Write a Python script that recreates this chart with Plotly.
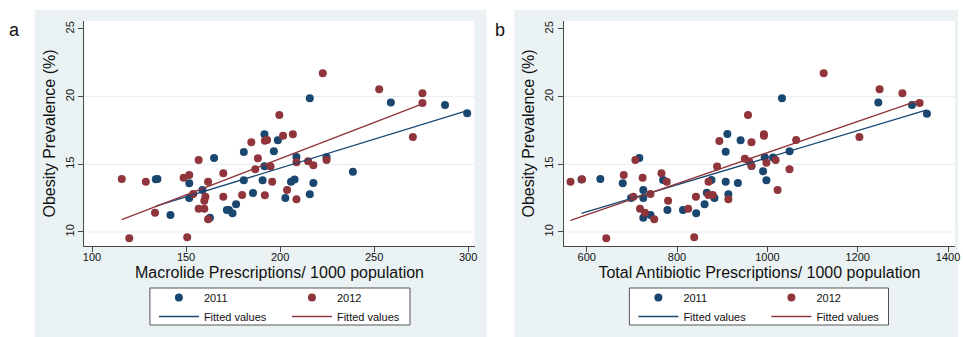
import numpy as np
import plotly.graph_objects as go

# ---------------- data ----------------
mac_2011_x = [133.9, 134.8, 141.7, 151.7, 151.7, 158.7, 164.9, 162.7, 171.7, 172.8, 174.7, 176.6,
              180.7, 180.7, 185.6, 215.8, 258.9, 287.7, 299.5, 191.7, 198.8, 196.7, 191.7, 208.7,
              224.7, 238.7, 190.7, 202.8, 205.8, 207.7, 215.8, 217.7]
mac_2011_y = [13.90, 13.92, 11.26, 13.60, 12.51, 13.10, 15.47, 11.06, 11.63, 11.63, 11.38, 12.05,
              15.91, 13.82, 12.88, 19.88, 19.56, 19.39, 18.77, 17.22, 16.78, 15.96, 14.85, 15.54,
              15.52, 14.46, 13.82, 12.51, 13.72, 13.87, 12.79, 13.62]

mac_2012_x = [115.8, 128.6, 133.5, 119.8, 150.6, 148.7, 151.7, 156.7, 153.8, 161.7, 160.3, 159.7,
              156.7, 159.7, 161.7, 169.8, 169.8, 179.8, 184.7, 188.2, 186.8, 222.7, 252.7, 275.7,
              275.7, 270.6, 199.6, 191.9, 193.1, 201.6, 206.8, 194.9, 208.7, 214.9, 217.7, 224.7,
              195.8, 191.9, 203.7, 208.7]
mac_2012_y = [13.92, 13.72, 11.43, 9.53, 9.61, 14.01, 14.21, 15.32, 12.81, 13.72, 12.60, 12.31,
              11.72, 11.72, 10.94, 14.34, 12.61, 12.73, 16.63, 15.45, 14.63, 21.73, 20.55, 20.25,
              19.53, 17.02, 18.65, 16.75, 16.80, 17.12, 17.22, 14.83, 15.15, 15.22, 14.93, 15.32,
              13.72, 12.71, 13.10, 12.42]

tot_2011_x = [588.5, 630.1, 679.8, 716.5, 698.2, 725.3, 725.3, 725.3, 741.3, 769.2, 778.7, 813.2, 842.4,
              860.9, 865.9, 876.2, 882.8, 907.7, 911.4, 907.7, 913.6, 1032.3, 1245.5, 1320.2, 1353.2,
              940.7, 994.1, 1012.5, 1049.1, 964.8, 990.5, 997.8, 934.7]
tot_2011_y = [13.87, 13.92, 13.60, 15.47, 12.51, 13.10, 12.51, 11.06, 11.26, 13.84, 11.63, 11.63, 11.38,
              12.05, 12.90, 13.84, 12.51, 15.93, 17.24, 13.72, 12.79, 19.88, 19.56, 19.39, 18.74,
              16.78, 15.52, 15.50, 15.96, 14.88, 14.49, 13.82, 13.62]

tot_2012_x = [564.2, 589.7, 643.3, 682.0, 707.7, 723.8, 703.3, 741.3, 718.0, 729.0, 749.5, 765.5,
              777.3, 780.2, 824.8, 838.0, 841.8, 869.7, 869.7, 879.1, 888.6, 893.8, 913.6, 1124.6,
              1248.4, 1298.9, 1337.0, 1203.7, 957.1, 992.3, 992.3, 964.8, 1063.7, 950.1, 959.8, 964.8,
              997.8, 1018.2, 1049.0, 1022.6]
tot_2012_y = [13.72, 13.90, 9.53, 14.21, 15.32, 14.01, 12.61, 12.81, 11.72, 11.43, 10.94, 14.34,
              13.72, 12.31, 11.72, 9.61, 12.61, 13.72, 12.73, 12.73, 14.83, 16.73, 12.42, 21.73,
              20.55, 20.25, 19.53, 17.02, 18.65, 17.22, 17.12, 16.63, 16.80, 15.42, 15.20, 14.90,
              15.12, 15.32, 14.63, 13.10]

years = ["2011", "2012"]
fit_label = "Fitted values"
panel_labels = ["a", "b"]
x_titles = ["Macrolide Prescriptions/ 1000 population", "Total Antibiotic Prescriptions/ 1000 population"]
y_title = "Obesity Prevalence (%)"
x_ticks_a = [100, 150, 200, 250, 300]
x_ticks_b = [600, 800, 1000, 1200, 1400]
y_ticks = [10, 15, 20, 25]
y_grid = [10, 15, 20]

# ---------------- style ----------------
W, H = 963, 337
NAVY = "#1A476F"
MAROON = "#90353B"
PANEL_BG = "#EAF2F3"
GRID = "#E3EEF0"
AXIS = "#4a4a4a"
FONT = "Liberation Sans, Arial, sans-serif"


def px(x):
    return x / W


def py(y):
    return 1 - y / H


def fit(xs, ys):
    xs = np.asarray(xs, float)
    ys = np.asarray(ys, float)
    b, a = np.polyfit(xs, ys, 1)
    xf = np.array([xs.min(), xs.max()])
    return xf, a + b * xf


fig = go.Figure()

panels = [
    dict(xa="x", ya="y", data=[(mac_2011_x, mac_2011_y), (mac_2012_x, mac_2012_y)], legends=["legend", "legend2"]),
    dict(xa="x2", ya="y2", data=[(tot_2011_x, tot_2011_y), (tot_2012_x, tot_2012_y)], legends=["legend3", "legend4"]),
]
colors = [NAVY, MAROON]

for p in panels:
    for (xs, ys), col, yr, lg in zip(p["data"], colors, years, p["legends"]):
        fig.add_trace(go.Scatter(x=xs, y=ys, mode="markers", name=yr, legend=lg,
                                 xaxis=p["xa"], yaxis=p["ya"],
                                 marker=dict(color=col, size=8, line=dict(width=0))))
    for (xs, ys), col, yr, lg in zip(p["data"], colors, years, p["legends"]):
        xf, yf = fit(xs, ys)
        fig.add_trace(go.Scatter(x=xf, y=yf, mode="lines", name=fit_label, legend=lg,
                                 xaxis=p["xa"], yaxis=p["ya"],
                                 line=dict(color=col, width=1.3)))

# plot-area geometry (pixels)
PL_A, PR_A = 83, 476
PL_B, PR_B = 566, 960
PT, PB = 21, 246

axis_common = dict(showline=True, linecolor=AXIS, linewidth=1, ticks="outside", ticklen=5,
                   tickcolor=AXIS, showgrid=False, zeroline=False,
                   tickfont=dict(family=FONT, size=11, color="#111"))

fig.update_layout(
    width=W, height=H, autosize=False,
    margin=dict(l=0, r=0, t=0, b=0, pad=0),
    paper_bgcolor="white", plot_bgcolor="rgba(0,0,0,0)",
    font=dict(family=FONT, color="#111"),
    xaxis=dict(domain=[px(PL_A), px(PR_A)], range=[95.94, 303.4], anchor="y", tickvals=x_ticks_a,
               ticklabelstandoff=-4,
               title=dict(text=x_titles[0], font=dict(size=16), standoff=4), **axis_common),
    yaxis=dict(domain=[py(PB), py(PT)], range=[8.965, 25.59], anchor="x", tickvals=y_ticks, tickangle=-90,
               title=dict(text=y_title, font=dict(size=16), standoff=4), **axis_common),
    xaxis2=dict(domain=[px(PL_B), px(PR_B)], range=[549.5, 1415.4], anchor="y2", tickvals=x_ticks_b,
                ticklabelstandoff=-4,
                title=dict(text=x_titles[1], font=dict(size=16), standoff=4), **axis_common),
    yaxis2=dict(domain=[py(PB), py(PT)], range=[8.965, 25.59], anchor="x2", tickvals=y_ticks, tickangle=-90,
                title=dict(text=y_title, font=dict(size=16), standoff=4), **axis_common),
)

shapes = []
# panel backgrounds
for x0, x1 in [(33, 488), (516, 963)]:
    shapes.append(dict(type="rect", xref="paper", yref="paper", x0=px(x0), x1=px(x1), y0=0, y1=py(10),
                       fillcolor=PANEL_BG, line=dict(width=0), layer="below"))
# white plot areas
for x0, x1 in [(PL_A, PR_A), (PL_B, PR_B)]:
    shapes.append(dict(type="rect", xref="paper", yref="paper", x0=px(x0), x1=px(x1), y0=py(PB), y1=py(PT),
                       fillcolor="white", line=dict(width=0), layer="below"))
# gridlines
for ya, xa in [("y", "x"), ("y2", "x2")]:
    for g in y_grid:
        shapes.append(dict(type="line", xref=xa + " domain", yref=ya, x0=0, x1=1, y0=g, y1=g,
                           line=dict(color=GRID, width=1), layer="below"))
# legend boxes
for x0, x1 in [(149, 411), (632, 893)]:
    shapes.append(dict(type="rect", xref="paper", yref="paper", x0=px(x0), x1=px(x1), y0=py(325), y1=py(288),
                       fillcolor="white", line=dict(color="#555", width=1), layer="above"))
fig.update_layout(shapes=shapes)

leg_common = dict(orientation="v", xanchor="left", yanchor="top", bgcolor="rgba(0,0,0,0)",
                  borderwidth=0, itemwidth=40, font=dict(family=FONT, size=11, color="#111"),
                  tracegroupgap=0)
fig.update_layout(
    legend=dict(x=px(153), y=py(283), **leg_common),
    legend2=dict(x=px(287), y=py(283), **leg_common),
    legend3=dict(x=px(636), y=py(283), **leg_common),
    legend4=dict(x=px(770), y=py(283), **leg_common),
)

for lab, x in zip(panel_labels, [13, 502]):
    fig.add_annotation(text=lab, x=px(x), y=py(30), xref="paper", yref="paper", showarrow=False,
                       xanchor="center", yanchor="middle", font=dict(family=FONT, size=18, color="#111"))

fig.write_html(
    "out.html",
    config={"displayModeBar": False},
    post_script="document.body.style.margin='0';document.body.style.padding='0';"
                "document.documentElement.style.overflow='hidden';",
)
